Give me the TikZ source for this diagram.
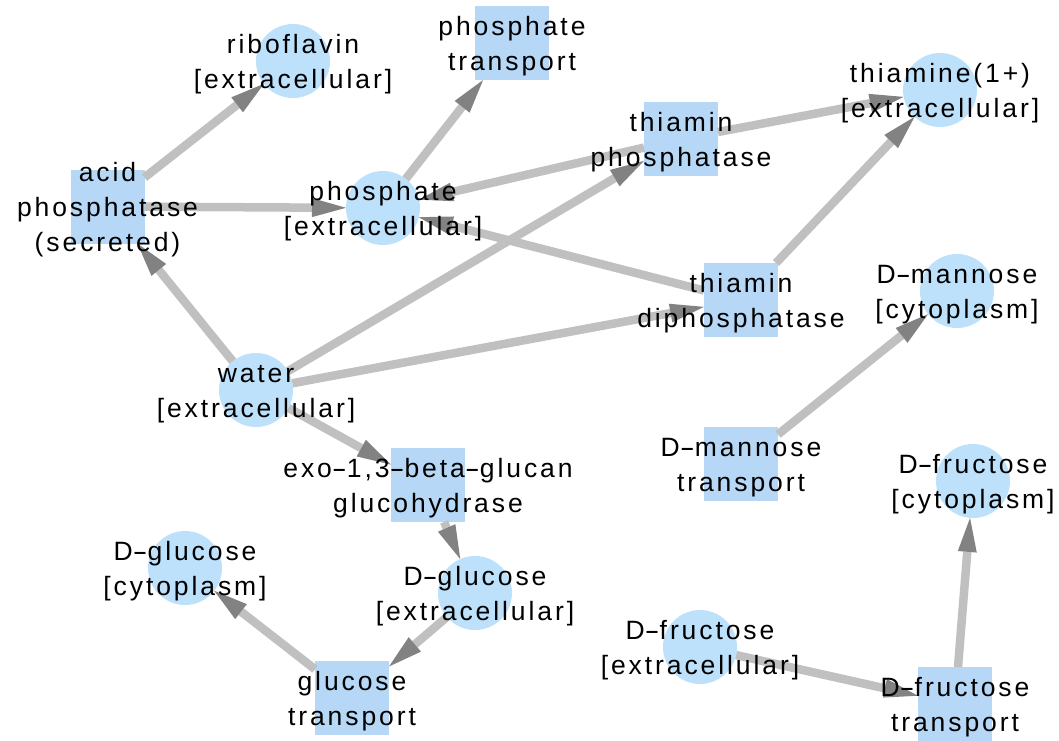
\documentclass[tikz,border=0pt]{standalone}
\usepackage{fontspec}
\usepackage{graphicx}
\setmainfont{Liberation Sans}[LetterSpace=11]
\usetikzlibrary{arrows.meta}
\definecolor{metfill}{RGB}{190,225,251}
\definecolor{rxnfill}{RGB}{182,216,246}
\definecolor{edgegray}{RGB}{192,192,192}
\definecolor{tipgray}{RGB}{130,130,130}
% line strut: every text line is 35pt tall, baseline 10pt below its middle
\newcommand\lnstrut{\rule[-7.5pt]{0pt}{35pt}}
% a wide hyphen, as in the name labels
\newcommand\hy{\scalebox{1.7}[1]{-}}
\begin{document}
\begin{tikzpicture}[x=1pt,y=-1pt,
  met/.style={circle,fill=metfill,minimum size=74pt,inner sep=0pt,outer sep=0pt},
  rxn/.style={rectangle,fill=rxnfill,minimum size=74pt,inner sep=0pt,outer sep=0pt},
  lbl/.style={align=center,inner sep=0pt,text=black,font=\fontsize{26.5}{35}\selectfont},
  edge/.style={draw=edgegray,line width=8.5pt,
    -{Triangle[length=34pt,width=19pt,color=tipgray,line width=0pt]}}]
\useasboundingbox (0,0) rectangle (1059,740);

% metabolites (circles) and reactions (squares)
\node[met] (rib)  at (293,61)    {};
\node[rxn] (ptr)  at (512,43)    {};
\node[rxn] (acid) at (107.5,206.5) {};
\node[met] (pho)  at (383,208)   {};
\node[rxn] (tph)  at (681,139)   {};
\node[met] (thi)  at (940,90)    {};
\node[rxn] (tdp)  at (741,300)   {};
\node[met] (mnc)  at (957,291)   {};
\node[met] (wat)  at (256,390)   {};
\node[rxn] (exo)  at (428,485)   {};
\node[met] (glc)  at (185,568)   {};
\node[met] (gle)  at (475,593)   {};
\node[rxn] (gtr)  at (352,698)   {};
\node[rxn] (mtr)  at (741,464)   {};
\node[met] (frc)  at (973,481)   {};
\node[met] (fre)  at (700,647)   {};
\node[rxn] (ftr)  at (955,704)   {};

% connectors
\draw[edge] (acid) -- (rib);
\draw[edge] (acid) -- (pho);
\draw[edge] (wat) -- (acid);
\draw[edge] (pho) -- (ptr);
\draw[edge] (tph) -- (pho);
\draw[edge] (tph) -- (thi);
\draw[edge] (wat) -- (tph);
\draw[edge] (tdp) -- (pho);
\draw[edge] (tdp) -- (thi);
\draw[edge] (wat) -- (tdp);
\draw[edge] (wat) -- (exo);
\draw[edge] (exo) -- (gle);
\draw[edge] (gle) -- (gtr);
\draw[edge] (gtr) -- (glc);
\draw[edge] (mtr) -- (mnc);
\draw[edge] (fre) -- (ftr);
\draw[edge] (ftr) -- (frc);

% labels on top
\node[lbl] (rib-l)  at (rib)  {\lnstrut riboflavin\\\lnstrut [extracellular]};
\node[lbl] (ptr-l)  at (ptr)  {\lnstrut phosphate\\\lnstrut transport};
\node[lbl] (acid-l) at (acid) {\lnstrut acid\\\lnstrut phosphatase\\\lnstrut (secreted)};
\node[lbl] (pho-l)  at (pho)  {\lnstrut phosphate\\\lnstrut [extracellular]};
\node[lbl] (tph-l)  at (tph)  {\lnstrut thiamin\\\lnstrut phosphatase};
\node[lbl] (thi-l)  at (thi)  {\lnstrut thiamine(1+)\\\lnstrut [extracellular]};
\node[lbl] (tdp-l)  at (tdp)  {\lnstrut thiamin\\\lnstrut diphosphatase};
\node[lbl] (mnc-l)  at (mnc)  {\lnstrut D\hy mannose\\\lnstrut [cytoplasm]};
\node[lbl] (wat-l)  at (wat)  {\lnstrut water\\\lnstrut [extracellular]};
\node[lbl] (exo-l)  at (exo)  {\lnstrut exo\hy 1,3\hy beta\hy glucan\\\lnstrut glucohydrase};
\node[lbl] (glc-l)  at (glc)  {\lnstrut D\hy glucose\\\lnstrut [cytoplasm]};
\node[lbl] (gle-l)  at (gle)  {\lnstrut D\hy glucose\\\lnstrut [extracellular]};
\node[lbl] (gtr-l)  at (gtr)  {\lnstrut glucose\\\lnstrut transport};
\node[lbl] (mtr-l)  at (mtr)  {\lnstrut D\hy mannose\\\lnstrut transport};
\node[lbl] (frc-l)  at (frc)  {\lnstrut D\hy fructose\\\lnstrut [cytoplasm]};
\node[lbl] (fre-l)  at (fre)  {\lnstrut D\hy fructose\\\lnstrut [extracellular]};
\node[lbl] (ftr-l)  at (ftr)  {\lnstrut D\hy fructose\\\lnstrut transport};
\end{tikzpicture}
\end{document}
